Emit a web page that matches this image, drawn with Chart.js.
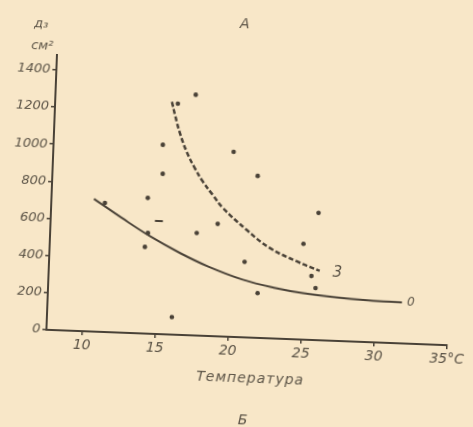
<!DOCTYPE html>
<html>
<head>
<meta charset="utf-8">
<script src="https://cdn.jsdelivr.net/npm/chart.js@4"></script>
<style>
  html, body { margin: 0; padding: 0; background: #f8e7c8; overflow: hidden; }
  #wrap { width: 473px; height: 427px; transform: rotate(2.2deg); transform-origin: 50% 50%; }
</style>
</head>
<body>
<div id="wrap"><canvas id="chart" width="473" height="427"></canvas></div>
<script>
// tick labels
const xTicks = [10, 15, 20, 25, 30, 35];
const yTicks = [0, 200, 400, 600, 800, 1000, 1200, 1400];

// measured points (temperature, value)
const dotsX = [17.15, 15.95, 15.03, 15.10, 19.89, 21.6, 25.86, 17.58, 18.99, 24.91, 20.93, 25.54, 25.85, 21.9, 16.1, 14.14, 14.07, 14.24, 11.22];
const dotsY = [1295, 1243, 1019, 863, 996, 871, 685, 552, 605, 515, 406, 344, 280, 241, 94, 730, 466, 542, 694];

// the little dash mark
const dashMarkX = [14.96];
const dashMarkY = [608];

// curve 3 (dashed)
const curve3X = [15.54, 15.78, 16.16, 16.68, 17.27, 17.86, 18.57, 19.3, 20.99, 22.61, 24.49, 26.09];
const curve3Y = [1252, 1183, 1087, 986, 901, 830, 760, 692, 578, 486, 420, 373];

// curve 0 (solid)
const curve0X = [10.46, 12.4, 14.38, 16.5, 18.5, 20.85, 23, 25, 27.3, 29.5, 31.8];
const curve0Y = [714, 618, 525, 440, 372, 310, 273, 250, 234, 225, 221];

const ink = "#4a4237";
const textInk = "#5c5447";

function pts(xs, ys) {
    return xs.map((x, i) => ({ x: x, y: ys[i] }));
}

const extraText = {
    id: "extraText",
    afterDraw(chart) {
        const ctx = chart.ctx;
        const ca = chart.chartArea;
        const xs = chart.scales.x;
        const ys = chart.scales.y;
        ctx.save();
        ctx.fillStyle = textInk;
        ctx.textAlign = "center";
        ctx.textBaseline = "middle";

        ctx.font = "italic 14px 'DejaVu Sans'";
        ctx.fillText("A", (ca.left + ca.right) / 2 - 14, ca.top - 38);

        ctx.font = "italic 13px 'DejaVu Sans'";
        ctx.fillText("д₃", ca.left - 17, ca.top - 30);
        ctx.fillText("см²", ca.left - 15, ca.top - 8);

        ctx.font = "italic 14px 'DejaVu Sans'";
        ctx.letterSpacing = "1px";
        ctx.fillText("Температура", (ca.left + ca.right) / 2 + 5, ca.bottom + 41);
        ctx.letterSpacing = "0px";
        ctx.fillText("Б", (ca.left + ca.right) / 2 - 1, ca.bottom + 83);

        ctx.font = "italic 15px 'DejaVu Sans'";
        ctx.fillText("3", xs.getPixelForValue(27.3), ys.getPixelForValue(365));
        ctx.font = "italic 12px 'DejaVu Sans'";
        ctx.fillText("0", xs.getPixelForValue(32.4), ys.getPixelForValue(221));
        ctx.restore();
    }
};

new Chart(document.getElementById("chart"), {
    type: "scatter",
    data: {
        datasets: [
            {
                data: pts(dotsX, dotsY),
                backgroundColor: ink,
                borderWidth: 0,
                pointRadius: 2.3
            },
            {
                data: pts(dashMarkX, dashMarkY),
                pointStyle: "line",
                borderColor: ink,
                borderWidth: 2,
                pointRadius: 4
            },
            {
                type: "line",
                data: pts(curve3X, curve3Y),
                borderColor: ink,
                borderWidth: 2.5,
                borderDash: [5, 2.5],
                pointRadius: 0,
                tension: 0.4,
                fill: false
            },
            {
                type: "line",
                data: pts(curve0X, curve0Y),
                borderColor: ink,
                borderWidth: 2,
                pointRadius: 0,
                tension: 0.4,
                fill: false
            }
        ]
    },
    options: {
        responsive: false,
        animation: false,
        layout: { padding: { top: 62, right: 21, left: 0, bottom: 0 } },
        plugins: {
            legend: { display: false },
            tooltip: { enabled: false }
        },
        scales: {
            x: {
                type: "linear",
                min: 7.55,
                max: 35,
                afterBuildTicks: s => { s.ticks = xTicks.map(v => ({ value: v })); },
                afterFit: s => { s.height = 90; },
                ticks: {
                    color: textInk,
                    font: { family: "DejaVu Sans", style: "italic", size: 14 },
                    padding: 2,
                    maxRotation: 0,
                    callback: v => v === 35 ? "35°C" : String(v)
                },
                grid: { display: true, drawOnChartArea: false, drawTicks: true, tickLength: 4, color: ink, lineWidth: 1.5 },
                border: { color: ink, width: 2 }
            },
            y: {
                min: 0,
                max: 1480,
                afterBuildTicks: s => { s.ticks = yTicks.map(v => ({ value: v })); },
                afterFit: s => { s.width = 51; },
                ticks: {
                    color: textInk,
                    font: { family: "DejaVu Sans", style: "italic", size: 13 },
                    padding: 2,
                    callback: v => String(v)
                },
                grid: { display: true, drawOnChartArea: false, drawTicks: true, tickLength: 4, color: ink, lineWidth: 1.5 },
                border: { color: ink, width: 2 }
            }
        }
    },
    plugins: [extraText]
});
</script>
</body>
</html>
